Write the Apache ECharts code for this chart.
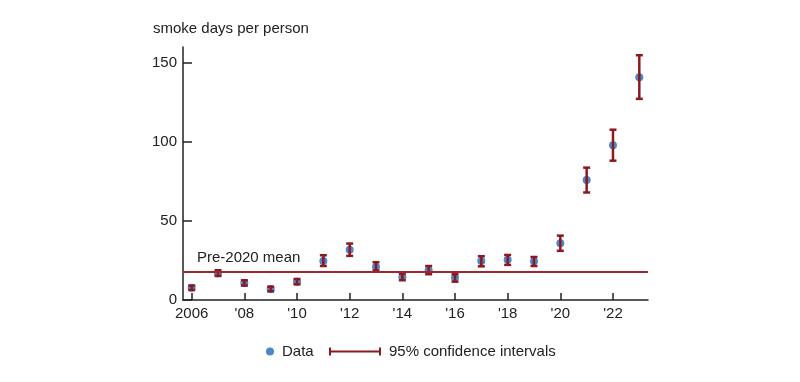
<!DOCTYPE html>
<html>
<head>
<meta charset="utf-8">
<script src="https://cdn.jsdelivr.net/npm/echarts@6/dist/echarts.min.js"></script>
<style>
html,body{margin:0;padding:0;background:#fff;}
#chart{width:800px;height:382px;}
</style>
</head>
<body>
<div id="chart"></div>
<script>
const years = [2006,2007,2008,2009,2010,2011,2012,2013,2014,2015,2016,2017,2018,2019,2020,2021,2022,2023];
const values = [7.8,16.9,10.8,7.0,11.6,24.7,31.7,21.1,14.6,18.8,14.1,24.7,25.5,24.5,35.9,75.9,97.8,140.9];
const ciLow = [6.3,15.2,9.1,5.5,9.9,21.5,27.9,18.6,12.5,16.3,11.6,21.3,22.2,21.5,31.1,68.0,88.1,127.2];
const ciHigh = [9.1,18.8,12.5,8.4,13.3,28.3,35.7,23.9,16.7,21.5,16.3,27.7,28.5,27.2,40.7,83.7,107.7,154.8];
const preMean = 17.9;
const xTickValues = [2006,2008,2010,2012,2014,2016,2018,2020,2022];
const yTickValues = [0,50,100,150];
const yAxisTitle = 'smoke days per person';
const meanLabel = 'Pre-2020 mean';
const dataName = 'Data';
const ciName = '95% confidence intervals';

const FONT = "'Liberation Sans', Arial, sans-serif";
const TXT = '#222';
const RED = '#8b1a20';
const BLUE = '#4e87c9';

const chart = echarts.init(document.getElementById('chart'), null, {renderer:'canvas'});
const scatterData = years.map((y,i)=>[y, values[i]]);
const ciData = years.map((y,i)=>[y, ciLow[i], ciHigh[i]]);

chart.setOption({
  animation:false,
  textStyle:{fontFamily:FONT},
  title:{text:yAxisTitle, left:153, top:21, padding:0,
    textStyle:{fontSize:15, fontWeight:'normal', color:TXT, fontFamily:FONT}},
  grid:{left:183, right:152, top:47, bottom:82},
  legend:[
    {data:[{name:dataName, icon:'circle'}], left:266, top:344, padding:0,
     itemWidth:8, itemHeight:8, textStyle:{fontSize:15, color:TXT, fontFamily:FONT, padding:[0,0,0,3]}},
    {data:[{name:ciName, icon:'path://M0,3H52V5H0Z M0,0H2V8H0Z M50,0H52V8H50Z'}], left:329, top:344, padding:0,
     itemWidth:52, itemHeight:8, textStyle:{fontSize:15, color:TXT, fontFamily:FONT, padding:[0,0,0,3]}}
  ],
  xAxis:{type:'value', min:2005.67, max:2023.33,
    axisLine:{lineStyle:{color:TXT, width:1.5}},
    axisTick:{inside:true, length:7, customValues:xTickValues, lineStyle:{color:TXT, width:1.5}},
    axisLabel:{customValues:xTickValues, margin:6, fontSize:15, color:TXT, fontFamily:FONT,
      formatter:v=> v===2006 ? '2006' : "'" + String(v).slice(2)},
    splitLine:{show:false}},
  yAxis:{type:'value', min:0, max:160,
    axisLine:{show:true, lineStyle:{color:TXT, width:1.5}},
    axisTick:{show:true, inside:true, length:9, customValues:yTickValues, lineStyle:{color:TXT, width:1.5}},
    axisLabel:{customValues:yTickValues, margin:6, fontSize:15, color:TXT, fontFamily:FONT},
    splitLine:{show:false}},
  series:[
    {name:dataName, type:'scatter', data:scatterData, symbol:'circle', symbolSize:8,
     itemStyle:{color:BLUE, opacity:1}, z:2,
     markLine:{silent:true, symbol:'none', animation:false,
       lineStyle:{color:'#a3262c', width:2, type:'solid'},
       label:{show:true, formatter:meanLabel, position:'insideStartTop', distance:[14,6],
         fontSize:15, color:TXT, fontFamily:FONT},
       data:[{yAxis:preMean}]}},
    {name:ciName, type:'custom', data:ciData, z:3,
     itemStyle:{color:RED},
     encode:{x:0, y:[1,2]},
     renderItem:function(params, api){
       const x = api.value(0), lo = api.value(1), hi = api.value(2);
       const p1 = api.coord([x, hi]), p2 = api.coord([x, lo]);
       const hw = 3.5;
       const st = {stroke:RED, lineWidth:2.5};
       return {type:'group', children:[
         {type:'line', shape:{x1:p1[0], y1:p1[1], x2:p2[0], y2:p2[1]}, style:st},
         {type:'line', shape:{x1:p1[0]-hw, y1:p1[1], x2:p1[0]+hw, y2:p1[1]}, style:st},
         {type:'line', shape:{x1:p2[0]-hw, y1:p2[1], x2:p2[0]+hw, y2:p2[1]}, style:st}
       ]};
     }}
  ]
});
</script>
</body>
</html>
